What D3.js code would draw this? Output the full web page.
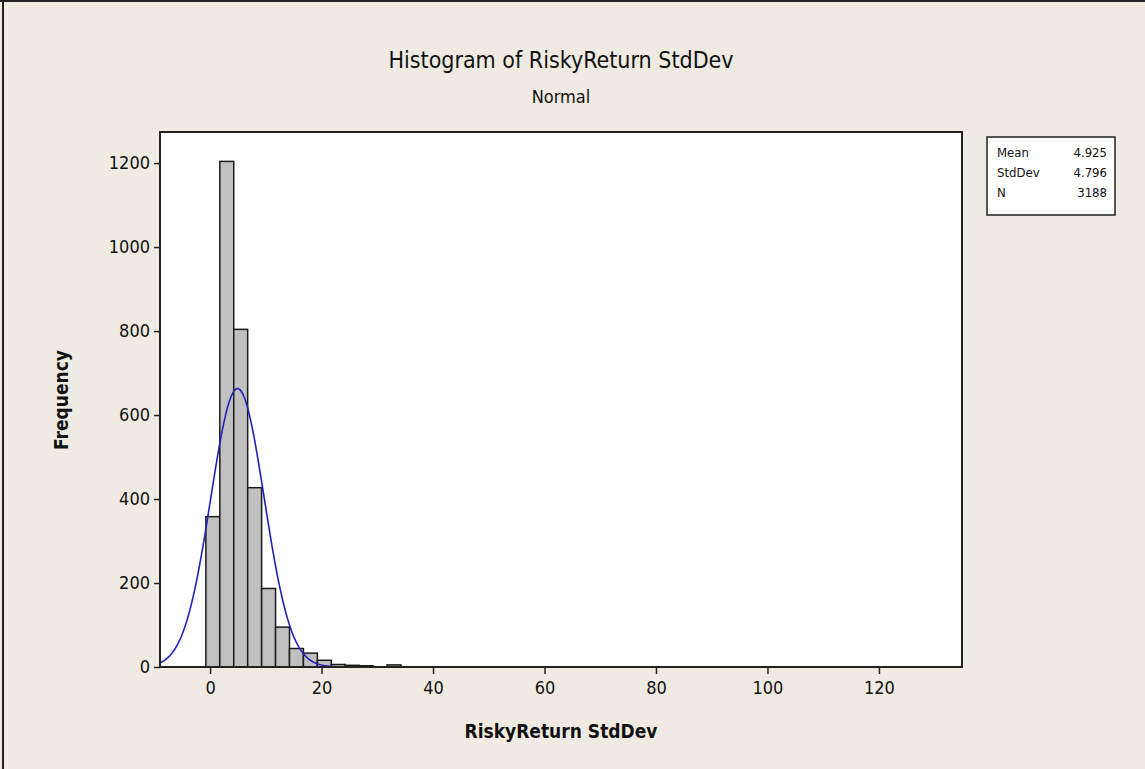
<!DOCTYPE html>
<html>
<head>
    <title>Histogram of RiskyReturn StdDev</title>
    <script src="https://d3js.org/d3.v7.min.js"></script>
    <style>
        body { margin: 0; background: #efebe2; }
        text { font-family: Tahoma, "DejaVu Sans Condensed", "DejaVu Sans", sans-serif; fill: #111; }
    </style>
</head>
<body>
    <svg id="chart" width="1145" height="769"></svg>

    <script>
        // histogram counts, bins of width 2.5 starting at -0.75
        var binStart = -0.75
        var binWidth = 2.5
        var counts = [358, 1204, 804, 427, 187, 95, 44, 33, 16, 6, 4, 3, 0, 5]

        var xTicks = [0, 20, 40, 60, 80, 100, 120]
        var yTicks = [0, 200, 400, 600, 800, 1000, 1200]

        var statNames = ["Mean", "StdDev", "N"]
        var statValues = ["4.925", "4.796", "3188"]
        var mean = 4.925, sd = 4.796, n = 3188

        var svg = d3.select("#chart")

        // window frame (top and left edge only)
        svg.append("rect").attr("x", 0).attr("y", 0).attr("width", 1145).attr("height", 769).attr("fill", "#efebe2")
        svg.append("line").attr("x1", 3).attr("x2", 3).attr("y1", 0).attr("y2", 769).attr("stroke", "#222").attr("stroke-width", 2)
        svg.append("line").attr("x1", 0).attr("x2", 1145).attr("y1", 1).attr("y2", 1).attr("stroke", "#222").attr("stroke-width", 2)

        var pLeft = 160, pRight = 962, pTop = 132, pBottom = 667

        var x = d3.scaleLinear([-8.98, 134.9], [pLeft, pRight])
        var y = d3.scaleLinear([0, 1274], [pBottom, pTop])

        svg.append("rect")
            .attr("x", pLeft).attr("y", pTop)
            .attr("width", pRight - pLeft).attr("height", pBottom - pTop)
            .attr("fill", "white")

        var bins = counts.map((c, i) => ({ x0: binStart + i * binWidth, x1: binStart + (i + 1) * binWidth, c: c }))

        svg.selectAll("rect.bar")
            .data(bins.filter(d => d.c > 0))
            .enter()
            .append("rect")
            .attr("class", "bar")
            .attr("x", d => x(d.x0))
            .attr("y", d => y(d.c))
            .attr("width", d => x(d.x1) - x(d.x0))
            .attr("height", d => y(0) - y(d.c))
            .attr("fill", "#c0c0c0")
            .attr("stroke", "#1a1a1a")
            .attr("stroke-width", 1.5)

        // fitted normal curve
        var pts = d3.range(-8.98, 134.9, 0.2).map(v => [v, n * binWidth / (sd * Math.sqrt(2 * Math.PI)) * Math.exp(-0.5 * ((v - mean) / sd) ** 2)])
        svg.append("path")
            .datum(pts)
            .attr("d", d3.line().x(d => x(d[0])).y(d => y(d[1])))
            .attr("fill", "none")
            .attr("stroke", "#2222bb")
            .attr("stroke-width", 1.6)

        // frame
        svg.append("rect")
            .attr("x", pLeft).attr("y", pTop)
            .attr("width", pRight - pLeft).attr("height", pBottom - pTop)
            .attr("fill", "none").attr("stroke", "#222").attr("stroke-width", 2)

        var xAxis = svg.append("g")
            .attr("transform", "translate(0," + pBottom + ")")
            .call(d3.axisBottom(x).tickValues(xTicks).tickFormat(d3.format("d")).tickSize(7).tickPadding(7))
        var yAxis = svg.append("g")
            .attr("transform", "translate(" + pLeft + ",0)")
            .call(d3.axisLeft(y).tickValues(yTicks).tickFormat(d3.format("d")).tickSize(6).tickPadding(4))
        xAxis.select(".domain").remove()
        yAxis.select(".domain").remove()
        svg.selectAll(".tick line").attr("stroke", "#222").attr("stroke-width", 1.5)
        svg.selectAll(".tick text").style("font-size", "18px").attr("fill", "#222")

        svg.append("text").attr("x", 561).attr("y", 68).attr("text-anchor", "middle")
            .style("font-size", "23px").text("Histogram of RiskyReturn StdDev")
        svg.append("text").attr("x", 561).attr("y", 103).attr("text-anchor", "middle")
            .style("font-size", "18px").text("Normal")
        svg.append("text").attr("x", 561).attr("y", 738).attr("text-anchor", "middle")
            .style("font-size", "19px").style("font-weight", "bold").text("RiskyReturn StdDev")
        svg.append("text").attr("transform", "translate(68,400) rotate(-90)").attr("text-anchor", "middle")
            .style("font-size", "19px").style("font-weight", "bold").text("Frequency")

        // stats box
        var box = svg.append("g").attr("transform", "translate(987,137)")
        box.append("rect").attr("width", 128).attr("height", 78).attr("fill", "white")
            .attr("stroke", "#222").attr("stroke-width", 1.5)
        box.selectAll("text.name").data(statNames).enter().append("text")
            .attr("x", 10).attr("y", (d, i) => 20 + i * 20).style("font-size", "13px").text(d => d)
        box.selectAll("text.val").data(statValues).enter().append("text")
            .attr("x", 120).attr("y", (d, i) => 20 + i * 20).attr("text-anchor", "end").style("font-size", "13px").text(d => d)
    </script>
</body>
</html>
